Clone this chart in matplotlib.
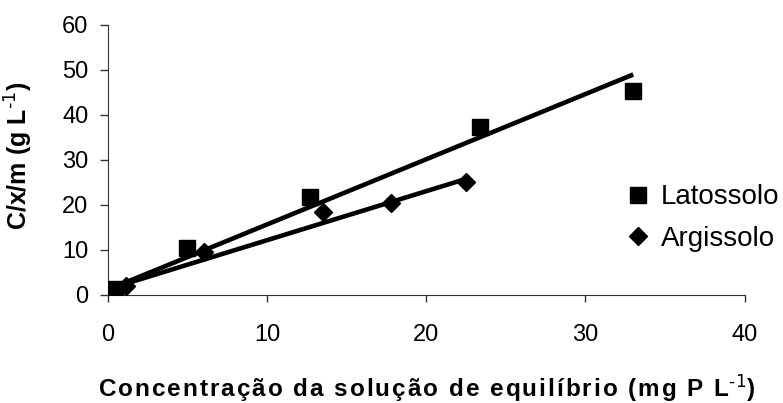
import matplotlib.pyplot as plt
import numpy as np

plt.rcParams['font.family'] = ['Liberation Sans', 'DejaVu Sans']
plt.rcParams['mathtext.default'] = 'regular'

# Latossolo points
lat_x = [0.05, 0.45, 4.95, 12.7, 23.35, 33.0]
lat_y = [0.8, 1.4, 10.4, 21.8, 37.4, 45.3]
# Argissolo points
arg_x = [0.1, 1.1, 6.0, 13.5, 17.8, 22.5]
arg_y = [0.9, 2.0, 9.6, 18.4, 20.4, 25.0]

# trend lines (end points)
lat_fit_x = [0.0, 33.0]
lat_fit_y = [1.2, 49.0]
arg_fit_x = [0.0, 22.5]
arg_fit_y = [1.3, 25.8]

xticks = [0, 10, 20, 30, 40]
yticks = [0, 10, 20, 30, 40, 50, 60]


def spaced(s):
    # loose letter spacing like the original label
    return '\u200a'.join(s)


def main():
    fig = plt.figure(figsize=(7.83, 4.03), dpi=100)
    ax = fig.add_axes([0.138, 0.268, 0.813, 0.67])

    ax.plot(lat_fit_x, lat_fit_y, color='black', lw=3.3, solid_capstyle='butt', zorder=2)
    ax.plot(arg_fit_x, arg_fit_y, color='black', lw=3.3, solid_capstyle='butt', zorder=2)
    ax.plot(lat_x, lat_y, ls='none', marker='s', ms=11, color='black', label='Latossolo', zorder=3)
    ax.plot(arg_x, arg_y, ls='none', marker='D', ms=9.5, color='black', label='Argissolo', zorder=3)

    ax.set_xlim(0, 40)
    ax.set_ylim(0, 60)
    ax.set_xticks(xticks)
    ax.set_yticks(yticks)
    ax.tick_params(labelsize=17, width=1, color='#333333')
    ax.tick_params(axis='x', length=5, pad=16)
    ax.tick_params(axis='y', length=6, pad=8)
    for s in ['top', 'right']:
        ax.spines[s].set_visible(False)
    for s in ['left', 'bottom']:
        ax.spines[s].set_color('#333333')

    ax.set_xlabel(spaced('Concentração da solução de equilíbrio (mg P L') + r'$^{\text{-1}}$)',
                  fontsize=17.5, fontweight='bold')
    ax.xaxis.label.set_va('baseline')
    ax.xaxis.set_label_coords(0.5, -0.378)
    ax.set_ylabel(r'C/x/m (g L$^{\text{-1}}$)', fontsize=18, fontweight='bold')
    ax.yaxis.set_label_coords(-0.115, 0.515)

    ax.legend(loc='center left', bbox_to_anchor=(0.818, 0.285), frameon=False,
              fontsize=20, handlelength=0.7, handletextpad=0.45, labelspacing=0.55,
              borderaxespad=0, borderpad=0)

    plt.savefig('out.png', dpi=100)


if __name__ == '__main__':
    main()
